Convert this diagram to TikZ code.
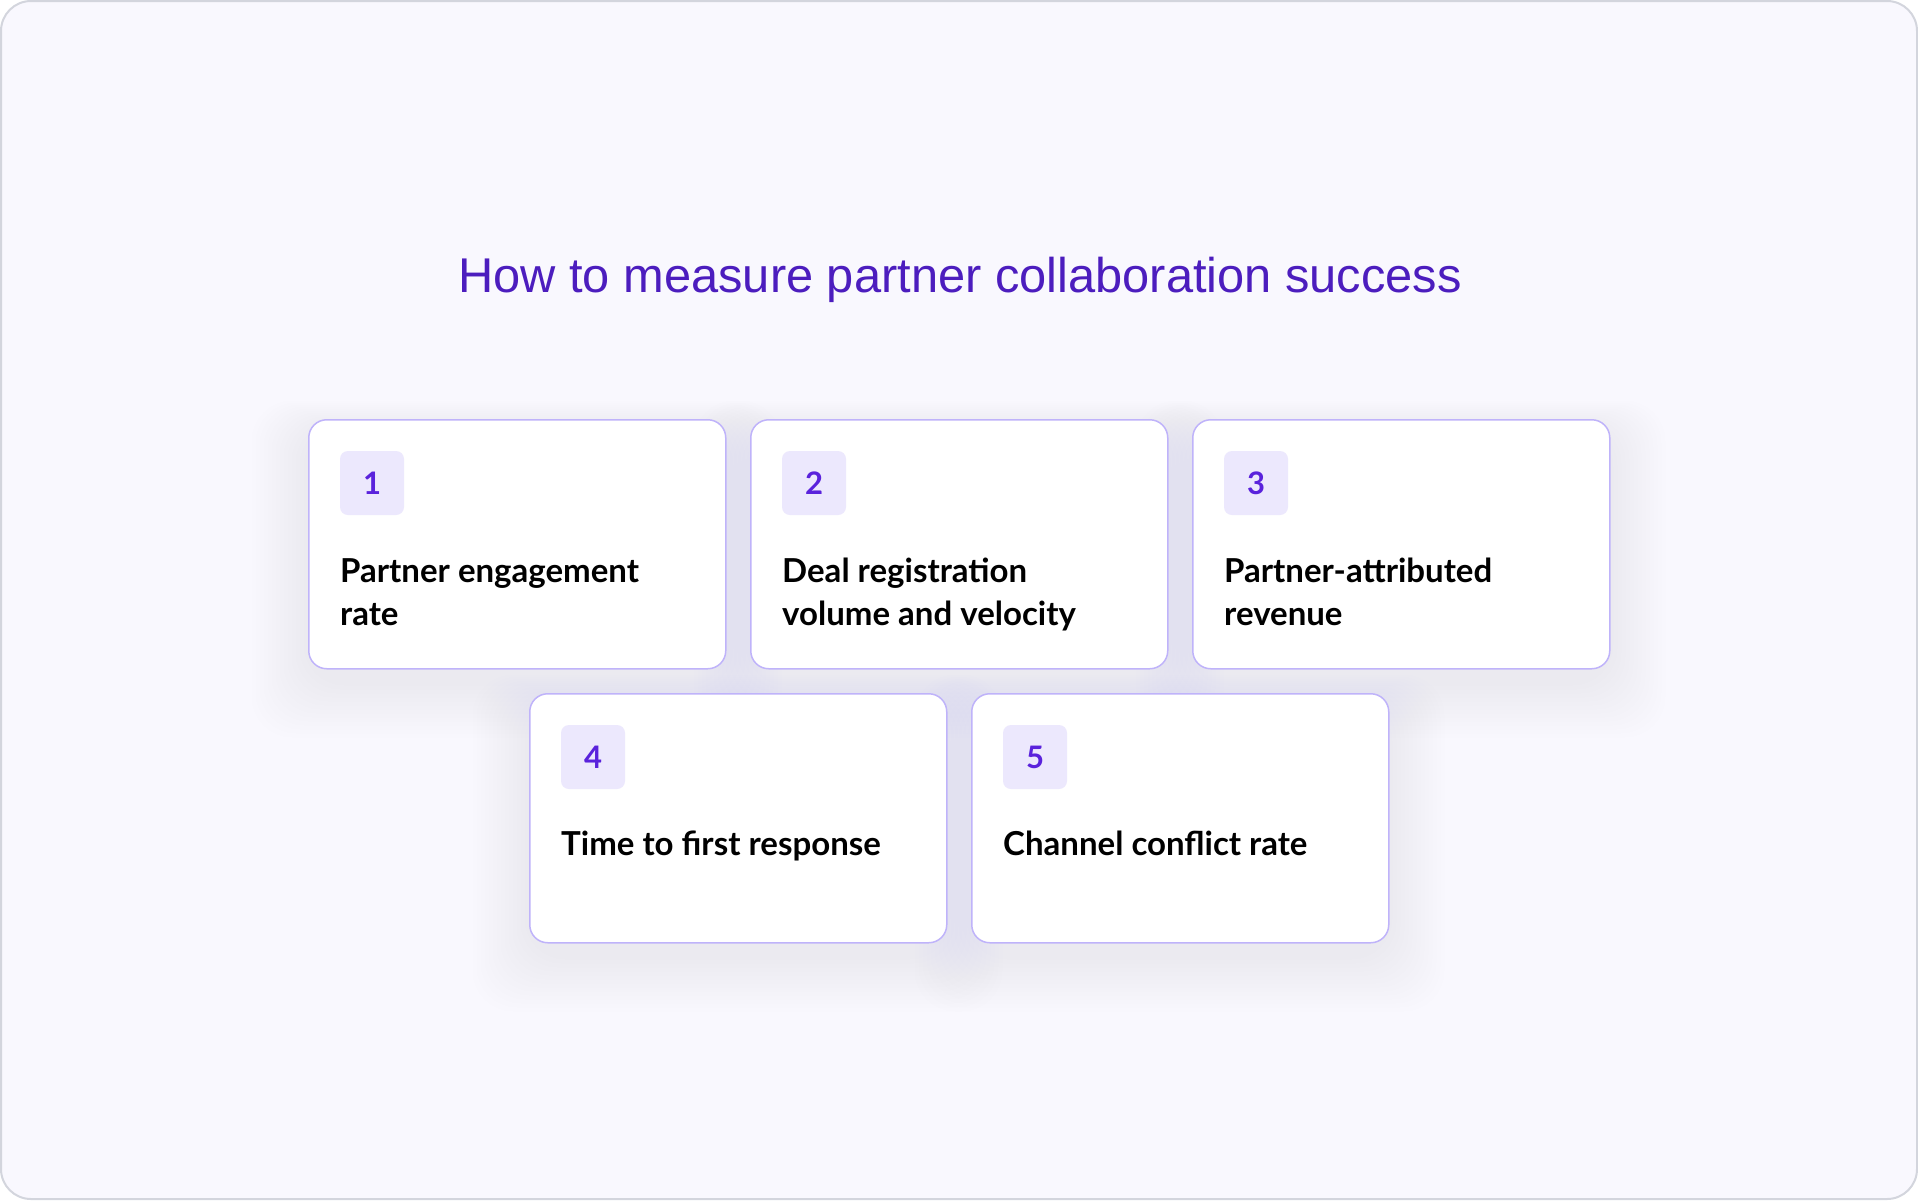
\documentclass[tikz,border=0pt]{standalone}
\usepackage{fontspec}
\setmainfont{Lato}
\newfontfamily\titlefont{Liberation Sans}
\definecolor{pagebg}{HTML}{F9F8FE}
\definecolor{pageline}{HTML}{D3D5DD}
\definecolor{cardline}{HTML}{BFB3FA}
\definecolor{badgebg}{HTML}{ECE8FD}
\definecolor{numcol}{HTML}{5A22DC}
\definecolor{titlecol}{HTML}{4C1DBE}
\definecolor{shadowcol}{HTML}{C9BCF0}
\begin{document}
\begin{tikzpicture}[x=1bp,y=-1bp,
  card/.style={draw=cardline,line width=1.5bp,fill=white,rounded corners=18bp,
    minimum width=417bp,minimum height=249bp,anchor=north west,inner sep=0pt},
  haze/.style={fill=shadowcol,fill opacity=0.017,rounded corners=40bp},
  badge/.style={fill=badgebg,rounded corners=8bp,minimum size=64bp,inner sep=0pt,
    text=numcol,font=\fontsize{31bp}{32bp}\selectfont\bfseries},
  label/.style={anchor=base west,align=left,inner sep=0pt,
    font=\fontsize{33bp}{43bp}\selectfont\bfseries},
  heading/.style={anchor=base,inner sep=0pt,text=titlecol,
    font=\fontsize{48.8bp}{55bp}\selectfont\titlefont}]
\useasboundingbox (0,0) rectangle (1918,1200);
\draw[fill=pagebg,draw=pageline,line width=2bp,rounded corners=30bp] (1,1) rectangle (1917,1199);
% soft shadows under the cards
\foreach \cx/\cy in {308/419,750/419,1192/419,529/693,971/693}
  \foreach \k in {1,...,14}
    \fill[haze] (\cx-4*\k,\cy+10-2*\k) rectangle (\cx+417+4*\k,\cy+262+4*\k);
\node[heading] (title) at (960,292) {How to measure partner collaboration success};
% first row
\node[card] (c1) at (308,419) {};
\node[badge] (n1) at (372,483) {1};
\node[label] (t1) at (340,625) {Partner engagement\\rate};
\node[card] (c2) at (750,419) {};
\node[badge] (n2) at (814,483) {2};
\node[label] (t2) at (782,625) {Deal registration\\volume and velocity};
\node[card] (c3) at (1192,419) {};
\node[badge] (n3) at (1256,483) {3};
\node[label] (t3) at (1224,625) {Partner-attributed\\revenue};
% second row
\node[card] (c4) at (529,693) {};
\node[badge] (n4) at (593,757) {4};
\node[label] (t4) at (561,855) {Time to first response};
\node[card] (c5) at (971,693) {};
\node[badge] (n5) at (1035,757) {5};
\node[label] (t5) at (1003,855) {Channel conflict rate};
\end{tikzpicture}
\end{document}
